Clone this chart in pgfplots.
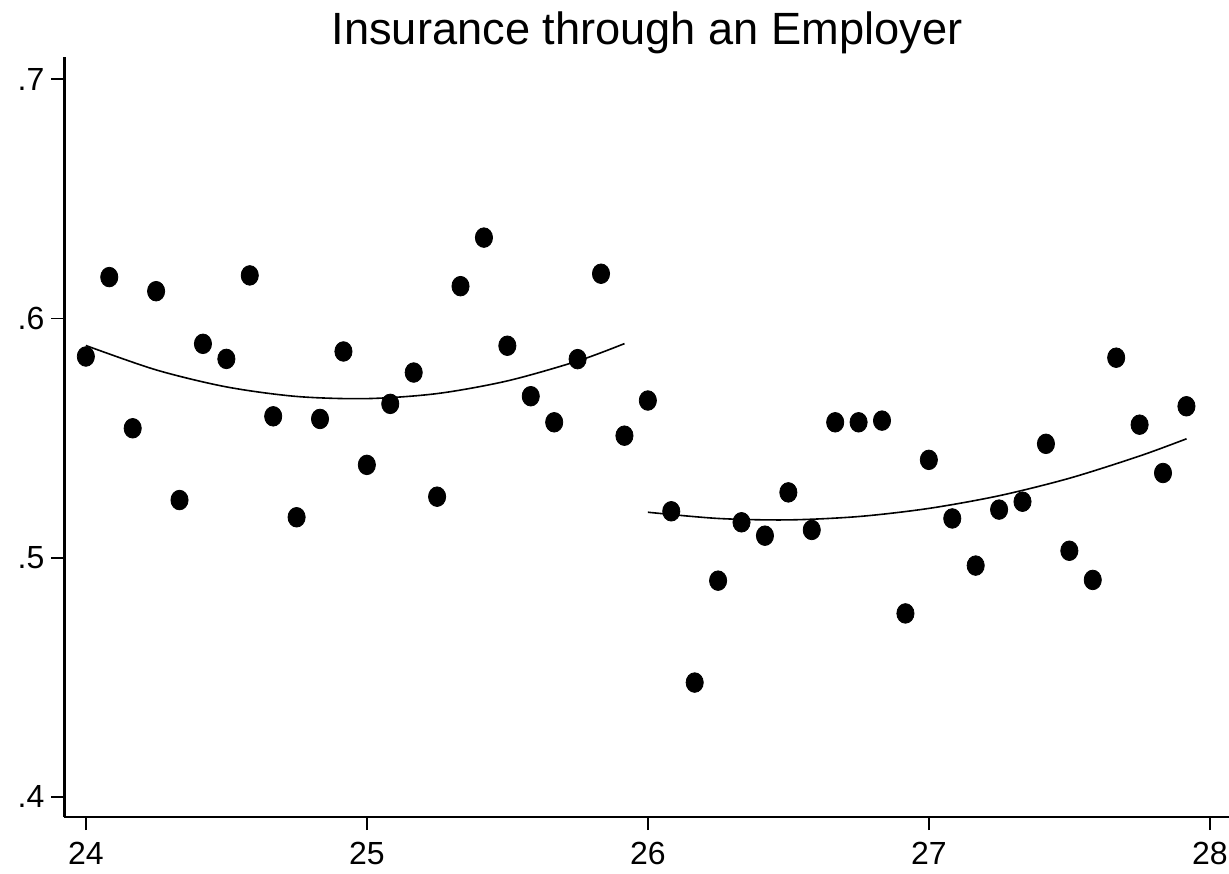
\documentclass[border=0pt]{standalone}
\usepackage{fontspec}
\setmainfont{Liberation Sans}
\usepackage{pgfplots}
\pgfplotsset{compat=1.18}
\begin{document}
\begin{tikzpicture}
\begin{axis}[
  scale only axis,
  width=582.5pt, height=380pt,
  xmin=23.924, xmax=28.07,
  ymin=0.3916, ymax=0.7093,
  axis x line*=bottom, axis y line*=left,
  axis line style={line width=1.2pt, black},
  xtick={24,25,26,27,28},
  xticklabels={24,25,26,27,28},
  ytick={0.4,0.5,0.6,0.7},
  yticklabels={.4,.5,.6,.7},
  tick align=outside,
  major tick length=6.5pt,
  tick style={line width=0.9pt, black},
  tick label style={font=\fontsize{16}{18}\selectfont},
  xticklabel style={yshift=-2.5pt},
  /pgf/number format/assume math mode=true,
  title={Insurance through an Employer},
  title style={font=\fontsize{22.6}{26}\selectfont, anchor=base},
  clip=false,
]
\addplot[only marks, mark=*, mark size=4.3pt, mark options={black, fill=black, yscale=1.14}] coordinates {
(24.0000,0.5841) (24.0833,0.6173) (24.1667,0.5541) (24.2500,0.6114)
(24.3333,0.5241) (24.4167,0.5894) (24.5000,0.5831) (24.5833,0.6180)
(24.6667,0.5591) (24.7500,0.5169) (24.8333,0.5580) (24.9167,0.5862)
(25.0000,0.5388) (25.0833,0.5643) (25.1667,0.5774) (25.2500,0.5255)
(25.3333,0.6135) (25.4167,0.6338) (25.5000,0.5886) (25.5833,0.5675)
(25.6667,0.5566) (25.7500,0.5830) (25.8333,0.6187) (25.9167,0.5510)
(26.0000,0.5657) (26.0833,0.5194) (26.1667,0.4478) (26.2500,0.4904)
(26.3333,0.5148) (26.4167,0.5092) (26.5000,0.5273) (26.5833,0.5116)
(26.6667,0.5566) (26.7500,0.5566) (26.8333,0.5573) (26.9167,0.4767)
(27.0000,0.5409) (27.0833,0.5164) (27.1667,0.4967) (27.2500,0.5201)
(27.3333,0.5234) (27.4167,0.5476) (27.5000,0.5029) (27.5833,0.4907)
(27.6667,0.5836) (27.7500,0.5556) (27.8333,0.5354) (27.9167,0.5633)
};
\addplot[black, line width=0.8pt, smooth, no marks] coordinates {
(24.00,0.5887) (24.25,0.5785) (24.50,0.5714) (24.75,0.5674) (25.00,0.5665)
(25.25,0.5686) (25.50,0.5739) (25.75,0.5822) (25.917,0.5895)
};
\addplot[black, line width=0.8pt, smooth, no marks] coordinates {
(26.00,0.5190) (26.25,0.5164) (26.50,0.5158) (26.75,0.5172) (27.00,0.5206)
(27.25,0.5259) (27.50,0.5332) (27.75,0.5425) (27.917,0.5497)
};
\end{axis}
\pgfresetboundingbox
\path[use as bounding box] (-32.25pt,-28pt) rectangle (582.25pt,408.5pt);
\end{tikzpicture}
\end{document}
